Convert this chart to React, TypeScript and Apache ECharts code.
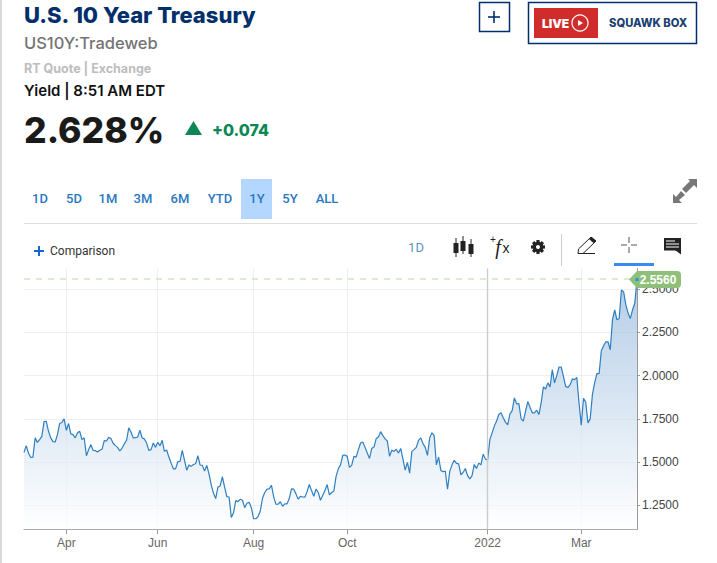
import React, { useEffect, useRef } from "react";
import * as echarts from "echarts";

const yields: number[] = [
  1.556,1.595,1.552,1.527,1.529,1.640,1.614,1.630,1.649,1.734,
  1.736,1.678,1.640,1.618,1.616,1.659,1.723,1.729,1.750,1.684,
  1.723,1.663,1.659,1.640,1.669,1.678,1.630,1.641,1.537,1.572,
  1.601,1.568,1.566,1.558,1.568,1.574,1.624,1.622,1.643,1.636,
  1.609,1.595,1.585,1.564,1.581,1.605,1.626,1.698,1.674,1.640,
  1.641,1.645,1.684,1.640,1.634,1.610,1.568,1.572,1.610,1.585,
  1.614,1.595,1.626,1.562,1.570,1.529,1.494,1.461,1.461,1.502,
  1.504,1.568,1.510,1.453,1.483,1.475,1.486,1.490,1.537,1.483,
  1.481,1.448,1.481,1.432,1.368,1.320,1.289,1.355,1.362,1.415,
  1.355,1.300,1.298,1.180,1.207,1.277,1.271,1.285,1.279,1.236,
  1.262,1.267,1.236,1.172,1.172,1.184,
  1.217,1.291,1.324,1.343,1.345,1.366,1.300,1.256,1.256,1.271,
  1.244,1.258,1.258,1.289,1.345,1.343,1.316,1.285,1.302,1.298,
  1.297,1.329,1.370,1.335,1.302,1.343,1.324,1.279,1.306,1.335,
  1.370,1.310,1.324,1.333,1.417,1.461,1.484,1.539,1.541,1.533,
  1.469,1.481,1.533,1.529,1.572,1.610,1.616,1.585,1.552,1.521,
  1.578,1.587,1.636,1.645,1.676,1.653,1.634,1.622,1.533,1.568,
  1.562,1.574,1.552,1.579,1.517,1.453,1.498,1.436,1.562,1.572,
  1.585,1.626,1.640,1.607,1.585,1.539,1.640,1.669,1.653,1.484,
  1.529,1.452,1.444,1.448,1.343,1.446,1.484,1.510,1.492,1.490,
  1.426,1.440,1.463,1.421,1.403,1.421,1.486,1.463,1.494,1.484,
  1.546,1.517,1.512,
  1.631,1.669,1.708,1.737,1.775,1.785,1.756,1.731,1.715,1.779,
  1.798,1.871,1.837,1.838,1.752,1.737,1.794,1.850,1.817,1.785,
  1.785,1.800,1.775,1.842,1.935,1.923,1.958,1.935,2.035,1.958,
  2.000,2.050,2.050,1.996,1.938,1.931,1.948,1.981,1.977,1.990,
  1.842,1.713,1.869,1.846,1.727,1.750,1.890,1.958,2.012,2.012,
  2.144,2.173,2.196,2.196,2.150,2.323,2.381,2.323,2.331,2.496,
  2.485,2.410,2.362,2.331,2.381,2.419,2.556,
];
const monthLabels = ["Apr", "Jun", "Aug", "Oct", "2022", "Mar"];
const monthIndexes = [19, 60, 103, 145, 208, 250];
const yTicks = [1.25, 1.5, 1.75, 2.0, 2.25, 2.5];
const rangeLabels = ["1D", "5D", "1M", "3M", "6M", "YTD", "1Y", "5Y", "ALL"];
const rangeCenters = [40, 74, 108, 143, 180, 220, 257, 290, 327];

const categories = yields.map((_, i) => {
  const at = monthIndexes.indexOf(i);
  return at >= 0 ? monthLabels[at] : String(i);
});
const isTick = (i: number) => monthIndexes.includes(i);

const NAVY = "#002f6c";
const HEAD = "Inter";
const UI = "Roboto";

const txt = (text: string, x: number, y: number, size: number, fill: string, weight: any = "normal", family = HEAD, align = "left", fontStyle = "normal") => ({
  type: "text",
  style: { text, x, y, fill, fontSize: size, fontWeight: weight, fontFamily: family, fontStyle, align, verticalAlign: "middle" },
});
const ln = (x1: number, y1: number, x2: number, y2: number, stroke: string, lineWidth = 1) => ({
  type: "line",
  shape: { x1, y1, x2, y2 },
  style: { stroke, lineWidth },
});
const box = (x: number, y: number, width: number, height: number, fill: string, stroke?: string, lineWidth = 1) => ({
  type: "rect",
  shape: { x, y, width, height },
  style: stroke ? { fill, stroke, lineWidth } : { fill },
});
const poly = (points: number[][], fill: string) => ({ type: "polygon", shape: { points }, style: { fill } });

export default function App() {
  const ref = useRef<HTMLDivElement>(null);
  useEffect(() => {
    document.body.style.margin = "0";
    const chart = echarts.init(ref.current!, undefined, { renderer: "svg" });
    const last = yields.length - 1;
    const gear = [0, Math.PI / 4, Math.PI / 2, (3 * Math.PI) / 4].map((rotation) => ({
      type: "rect",
      x: 538,
      y: 247,
      rotation,
      shape: { x: -1.6, y: -7, width: 3.2, height: 14 },
      style: { fill: "#222" },
    }));
    const candle = (x: number, top: number, h: number, lo: number, hi: number) => [
      ln(x, lo, x, hi, "#222", 1),
      box(x - 2.5, top, 5, h, "#222"),
    ];
    chart.setOption({
      animation: false,
      backgroundColor: "#fff",
      grid: { left: 24, right: 80, top: 268.5, height: 260.8 },
      xAxis: {
        type: "category",
        data: categories,
        boundaryGap: false,
        axisLine: { lineStyle: { color: "#999", width: 1 } },
        axisTick: { show: true, length: 5, interval: (i: number) => isTick(i), lineStyle: { color: "#999" } },
        axisLabel: { interval: (i: number) => isTick(i), color: "#666", fontSize: 12, fontFamily: "Liberation Sans", margin: 8 },
        splitLine: { show: true, interval: (i: number) => isTick(i), lineStyle: { color: "#eeeeee", width: 1 } },
      },
      yAxis: {
        type: "value",
        position: "right",
        min: 1.111,
        max: 2.62,
        axisLine: { show: true, lineStyle: { color: "#999", width: 1 } },
        axisTick: { show: true, length: 3, customValues: yTicks, lineStyle: { color: "#999" } },
        axisLabel: {
          customValues: yTicks,
          color: "#444",
          fontSize: 12,
          fontFamily: "Liberation Sans",
          margin: 5,
          formatter: (v: number) => v.toFixed(4),
        },
        splitLine: { show: true, lineStyle: { color: "#eeeeee", width: 1 } },
      },
      series: [
        {
          type: "line",
          data: yields,
          showSymbol: false,
          symbol: "none",
          lineStyle: { color: "#2f7fc1", width: 1.2 },
          areaStyle: {
            color: new echarts.graphic.LinearGradient(0, 0, 0, 1, [
              { offset: 0, color: "#94b8dc" },
              { offset: 1, color: "#ffffff" },
            ]),
          },
          markLine: {
            silent: true,
            symbol: "none",
            label: { show: false },
            data: [
              { xAxis: monthIndexes[4], lineStyle: { color: "#cccccc", width: 1.4, type: "solid" } },
              { yAxis: yields[last], lineStyle: { color: "#cfe6c4", width: 1.5, type: [6, 6] } },
            ],
          },
          markPoint: {
            silent: true,
            z: 10,
            data: [
              {
                coord: [last, yields[last]],
                symbol: "path://M0,8.5 L8,0 L48,0 Q52,0 52,4 L52,13 Q52,17 48,17 L8,17 Z",
                symbolSize: [52, 17],
                symbolOffset: [18, 0],
                symbolKeepAspect: false,
                itemStyle: { color: "#8fc07a" },
                label: {
                  show: true,
                  formatter: yields[last].toFixed(4),
                  color: "#fff",
                  fontSize: 12,
                  fontWeight: "bold",
                  fontFamily: "Liberation Sans",
                  offset: [3, 0],
                },
              },
              {
                coord: [last, yields[last]],
                symbol: "rect",
                symbolSize: 3,
                itemStyle: { color: "#1a9ae0" },
                label: { show: false },
              },
            ],
          },
        },
      ],
      graphic: {
        elements: [
          ln(1, 0, 1, 563, "#cccccc", 1.5),
          txt("U.S. 10 Year Treasury", 24, 15, 22, NAVY, 800),
          txt("US10Y:Tradeweb", 24, 43, 16.5, "#747474", 500),
          txt("RT Quote | Exchange", 24, 68, 12.5, "#bdbdbd", 700),
          txt("Yield | 8:51 AM EDT", 24, 90, 15, "#111", 600),
          txt("2.628%", 24, 130, 35.5, "#1a1a1a", 800),
          poly([[185, 135], [193.5, 121], [202, 135]], "#0a8754"),
          txt("+0.074", 212, 130, 16, "#0a8754", 800),

          box(479.5, 2.5, 30, 29, "#fff", NAVY, 1.5),
          ln(488, 17, 500, 17, NAVY, 1.6),
          ln(494, 11, 494, 23, NAVY, 1.6),
          box(528.5, 2.5, 168, 41, "#fff", NAVY, 1.5),
          box(534, 8, 64, 30, "#d02c2c"),
          txt("LIVE", 542, 23, 12, "#fff", 900),
          { type: "circle", shape: { cx: 580, cy: 23, r: 8 }, style: { fill: "none", stroke: "#fff", lineWidth: 1.2 } },
          poly([[578, 20], [578, 26], [583, 23]], "#fff"),
          txt("SQUAWK BOX", 609, 23, 11.2, "#1d3f72", 800),

          box(241, 179, 31, 40, "#b3d7ff"),
          ...rangeLabels.map((l, i) => txt(l, rangeCenters[i], 198.5, 13, "#2a78c0", 500, UI, "center")),
          ln(24, 223.5, 697, 223.5, "#dddddd", 1),

          poly([[688, 179], [697, 179], [697, 188], [694, 185], [686, 193], [682, 189], [690, 181]], "#777"),
          poly([[673, 203], [673, 194], [676, 197], [681, 191], [685, 195], [679, 200], [682, 203]], "#777"),

          ln(34, 251, 44, 251, "#1565d0", 2),
          ln(39, 246, 39, 256, "#1565d0", 2),
          txt("Comparison", 50, 251, 12, "#333", "normal", UI),
          txt("1D", 416, 247.5, 13, "#5a95c8", "normal", UI, "center"),

          ...candle(456, 243, 10, 238, 257),
          ...candle(463, 241, 10, 236, 254),
          ...candle(471, 244, 10, 239, 257),

          txt("f", 498, 247, 20, "#222", "normal", "Liberation Serif", "center", "italic"),
          txt("x", 506, 248, 14, "#222", "normal", "Liberation Sans", "center"),
          txt("+", 493, 239, 10, "#222", "normal", "Liberation Sans", "center"),

          ...gear,
          { type: "circle", shape: { cx: 538, cy: 247, r: 5.3 }, style: { fill: "#222" } },
          { type: "circle", shape: { cx: 538, cy: 247, r: 2 }, style: { fill: "#fff" } },

          ln(561.5, 234, 561.5, 266, "#cccccc", 1),

          { type: "polyline", shape: { points: [[578, 253.5], [578.5, 249], [591, 237], [596, 241], [583, 253.5], [578, 253.5], [595, 253.5]] }, style: { fill: "none", stroke: "#222", lineWidth: 1 } },
          poly([[589, 239], [591.5, 237], [596, 241], [593.5, 243]], "#222"),

          ln(629, 237, 629, 243, "#555", 1),
          ln(629, 247, 629, 253, "#555", 1),
          ln(621, 245, 627, 245, "#555", 1),
          ln(631, 245, 637, 245, "#555", 1),
          box(614, 263, 40, 3, "#3b8af0"),

          box(664, 238, 17, 12.5, "#222"),
          poly([[675, 250], [681, 250], [681, 254.5]], "#222"),
          ln(666, 241, 675, 241, "#fff", 1),
          ln(666, 244, 679, 244, "#fff", 1),
          ln(666, 247, 679, 247, "#fff", 1),
        ],
      },
    });
    return () => chart.dispose();
  }, []);
  return <div ref={ref} style={{ width: 717, height: 563 }} />;
}
